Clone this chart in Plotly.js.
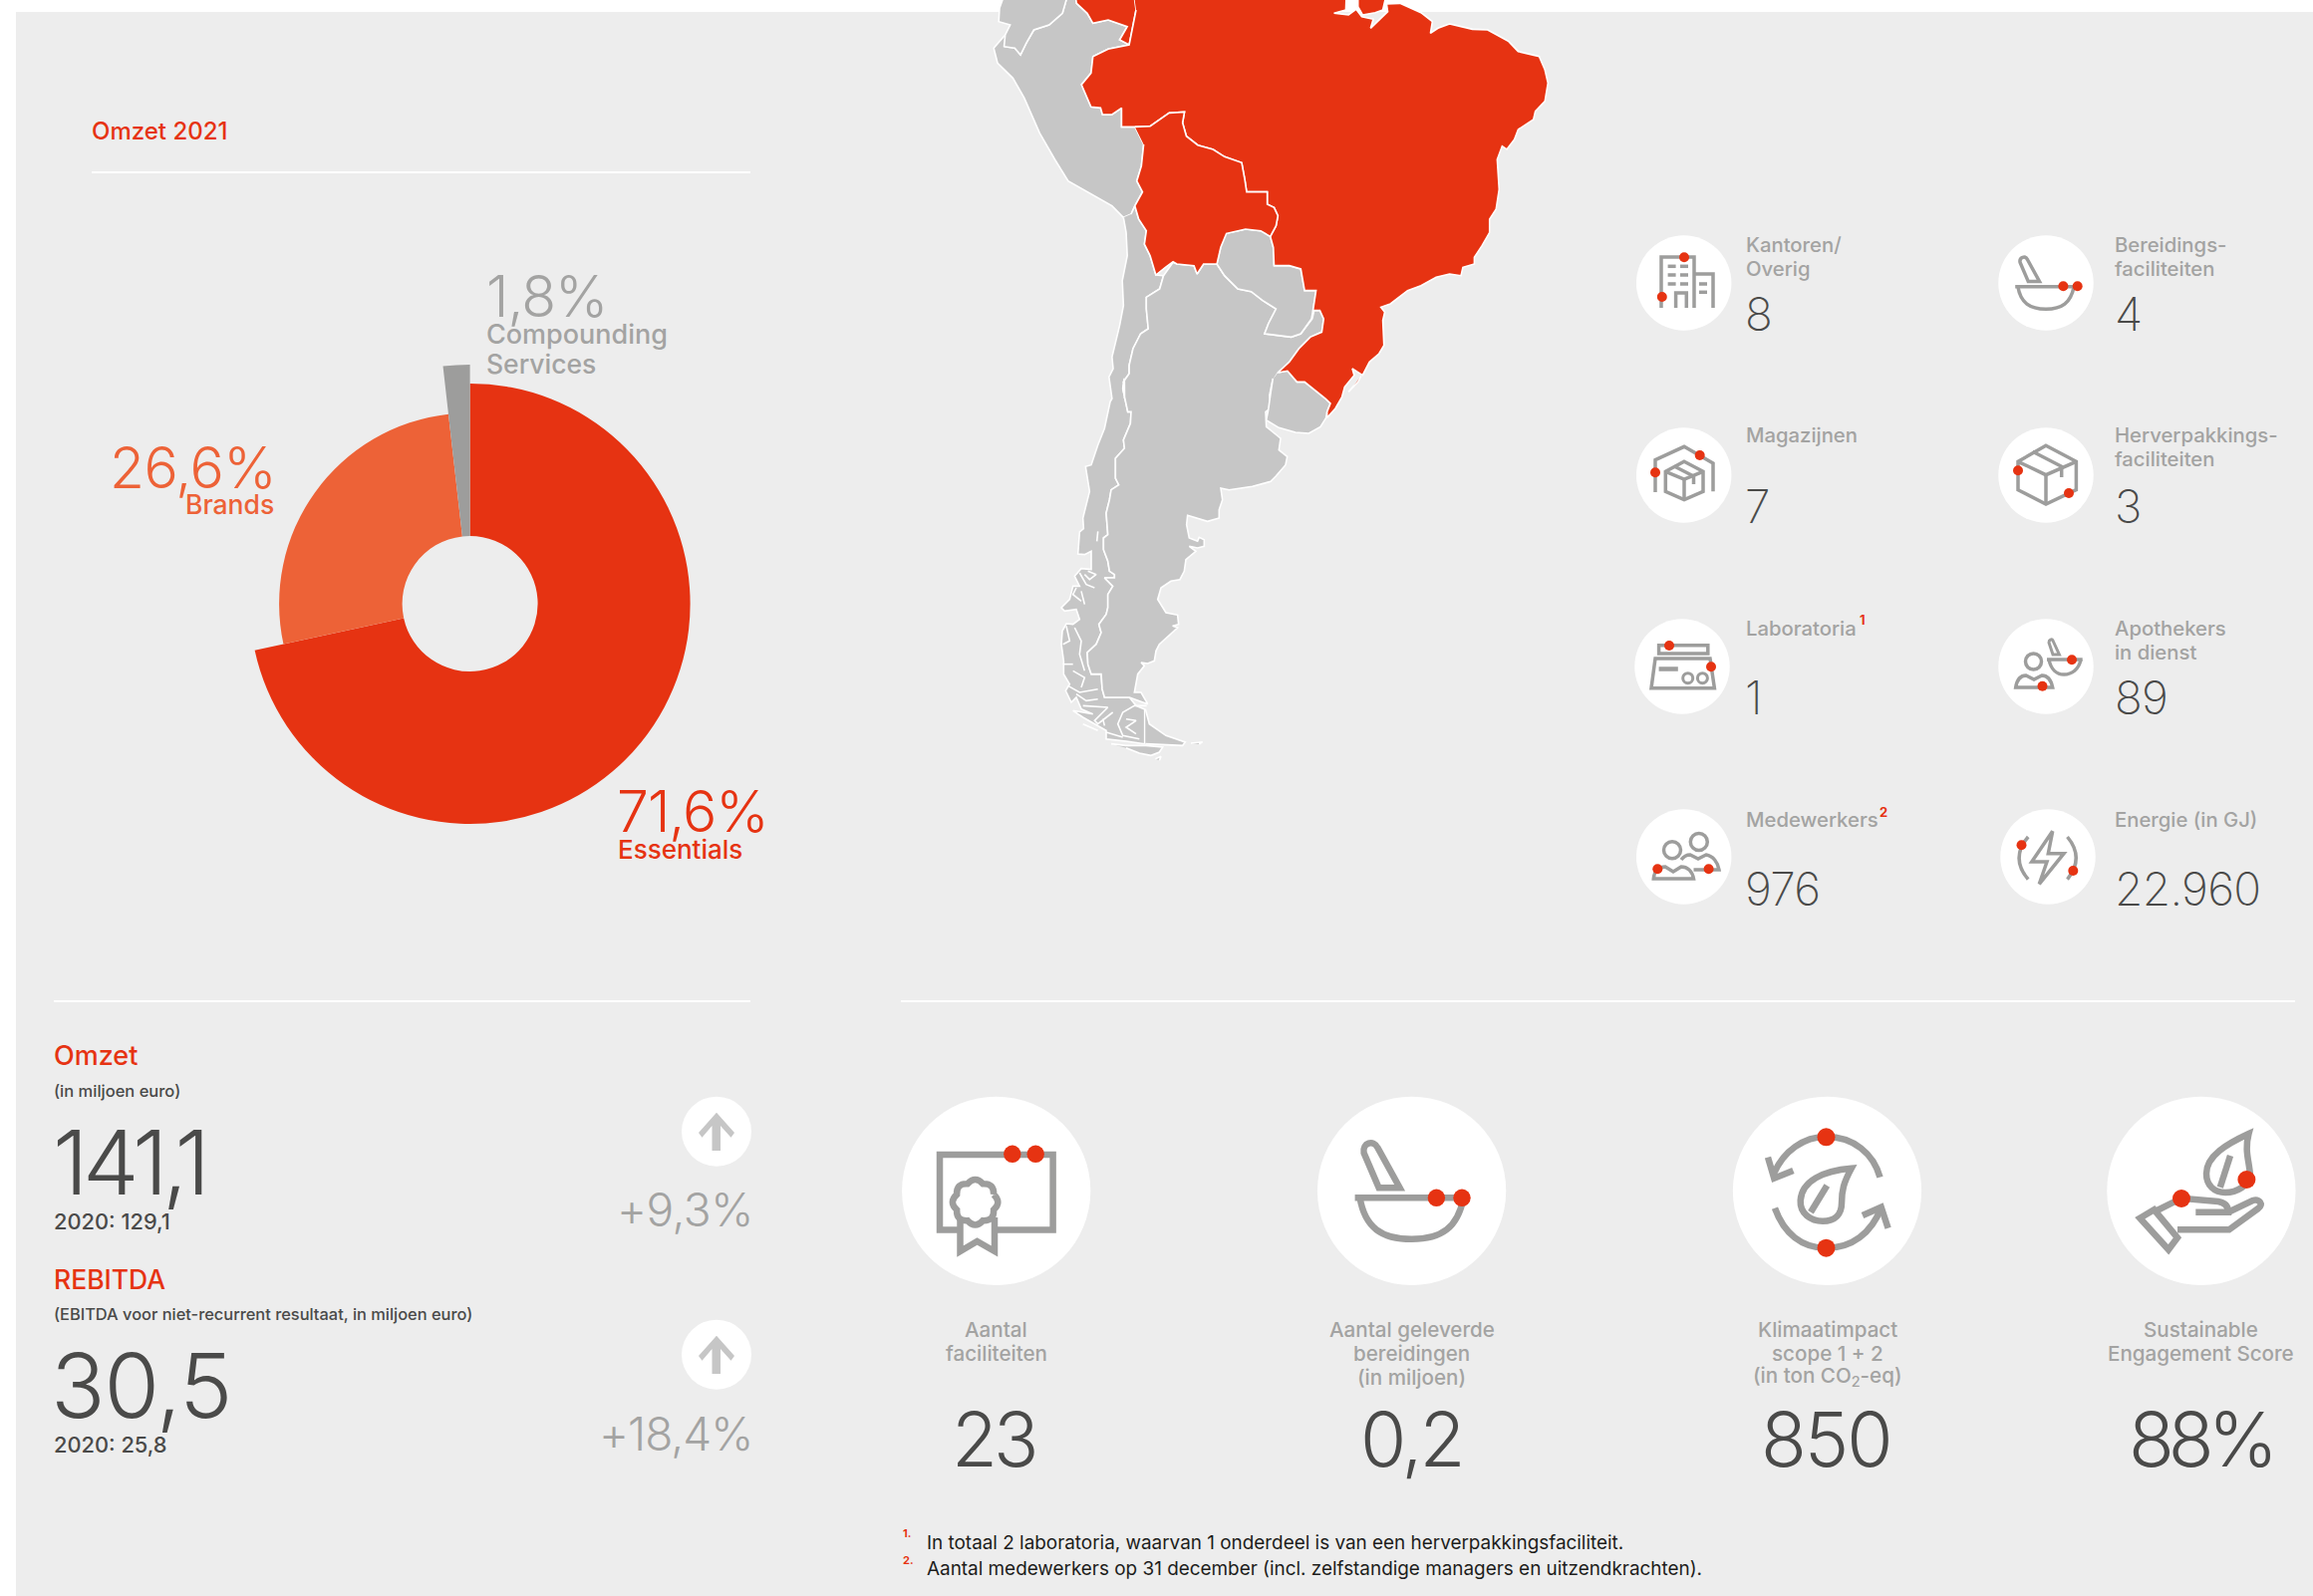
<!DOCTYPE html>
<html><head><meta charset="utf-8">
<script src="https://cdn.plot.ly/plotly-3.0.1.min.js"></script>
<style>html,body{margin:0;padding:0;background:#fff}#c{width:2321px;height:1602px}</style>
</head><body><div id="c"></div>
<script>
// ---------- DATA ----------
const shareLabels = ['Essentials','Brands','Compounding Services'];
const shareValues = [71.6,26.6,1.8];
const shareColors = ['#e63312','#ed6237','#9d9d9c'];
const shareRadii  = [221,191.5,240];

const smallLabels = [['Kantoren/','Overig'],['Bereidings-','faciliteiten'],['Magazijnen'],['Herverpakkings-','faciliteiten'],['Laboratoria'],['Apothekers','in dienst'],['Medewerkers'],['Energie (in GJ)']];
const smallValues = ['8','4','7','3','1','89','976','22.960'];
const bigLabels = [['Aantal','faciliteiten'],['Aantal geleverde','bereidingen','(in miljoen)'],['Klimaatimpact','scope 1 + 2','(in ton CO<sub>2</sub>-eq)'],['Sustainable','Engagement Score']];
const bigValues = ['23','0,2','850','88%'];
const bigTrack = [-4,-3,-2,-6];
const bigNudge = [-3,0,-1,-1];

const smallCx = [1689.7,2053,1689.7,2053,1688,2053,1689.7,2055];
const smallCy = [284,284,477,477,669,669,860,860];
const bigCx = [999.7,1416.6,1833.5,2208.9];
const bigCy = [1195.3,1195.3,1195.3,1195.3];
const arrowCx = [719,719];
const arrowCy = [1135.7,1359.7];

// map outlines (two reading frames)
const f1 = a => a.map(p=>[980+p[0]/2.613,p[1]/3]);
const f2 = a => a.map(p=>[1030+p[0]/3,380+p[1]/3]);
const brazil = [...f1([[410,-40],[970,-40],[968,30],[937,40],[975,45],[995,28],[1010,50],[1040,58],[1033,85],[1060,55],[1078,35],[1075,12],[1110,10],[1165,38],[1195,65],[1190,100],[1210,85],[1240,72],[1300,88],[1340,90],[1395,125],[1420,155],[1475,170],[1490,210],[1498,250],[1490,305],[1465,335],[1460,360],[1420,390],[1410,420],[1390,450],[1378,440],[1365,480],[1370,570],[1362,630],[1345,660],[1345,700],[1325,740],[1305,775],[1305,795],[1275,805],[1270,830],[1240,825],[1205,835],[1165,860],[1130,875],[1085,915],[1060,925],[1070,940],[1065,965],[1068,1040],[1055,1065],[1030,1090],[1012,1130],[985,1110],[990,1130],[965,1165],[958,1195]]),
 ...f2([[930,90],[905,118],[905,100],[915,75],[900,60]]),
 ...f1([[860,1150],[840,1150],[815,1117],[790,1122],[820,1090],[845,1050],[875,1015],[905,1000],[910,960],[900,935],[882,935],[890,875],[860,875],[850,810],[820,800],[780,800],[778,745],[770,712],[785,680],[790,650],[780,625],[762,615],[762,578],[708,578],[703,540],[695,490],[650,472],[620,450],[580,437],[550,410],[540,370],[545,337],[505,340],[455,380],[415,382],[380,382],[380,325],[355,345],[330,345],[325,325],[300,322],[275,255],[300,220],[305,170],[345,148],[400,135],[418,30]])];
const marajo = f1([[1000,-5],[1000,20],[1012,45],[1045,38],[1065,30],[1072,-5]]);
const lagoon = f1([[1008,1132],[1000,1150],[975,1180],[990,1160]]);
const colombia = f1([[255,-40],[262,10],[290,40],[305,70],[345,60],[395,80],[375,120],[400,135],[418,30],[410,-40]]);
const bolivia = f1([[415,382],[455,380],[505,340],[545,337],[540,370],[550,410],[580,437],[620,450],[650,472],[695,490],[703,540],[708,578],[762,578],[762,615],[780,625],[790,650],[785,680],[770,712],[745,695],[705,690],[655,703],[640,745],[630,795],[595,795],[578,825],[570,800],[525,795],[515,788],[495,805],[470,828],[455,770],[440,735],[445,695],[425,660],[415,620],[435,578],[420,545],[432,500],[438,435]]);
const ecuador = f1([[80,-40],[60,25],[58,65],[88,75],[75,105],[72,140],[100,145],[115,165],[130,130],[150,90],[190,75],[225,40],[235,0],[235,-40]]);
const peru = f1([[75,105],[45,145],[55,190],[95,235],[125,295],[165,400],[205,480],[240,545],[355,620],[385,655],[405,645],[415,620],[435,578],[420,545],[432,500],[438,435],[415,382],[380,382],[380,325],[355,345],[330,345],[325,325],[300,322],[275,255],[300,220],[305,170],[345,148],[400,135],[375,120],[395,80],[345,60],[305,70],[290,40],[262,10],[255,-40],[235,-40],[235,0],[225,40],[190,75],[150,90],[130,130],[115,165],[100,145],[72,140]]);
const paraguay = f1([[655,703],[705,690],[745,695],[770,712],[778,745],[780,800],[820,800],[850,810],[860,875],[890,875],[882,935],[878,960],[850,1005],[825,1015],[755,1005],[765,975],[785,930],[750,905],[720,878],[685,870],[650,830],[630,795],[640,745]]);
const uruguay = [...f1([[790,1122],[815,1117],[840,1150],[860,1150]]),...f2([[900,60],[915,75],[905,100],[902,118],[885,145],[850,165],[810,162],[760,148],[722,125],[728,95],[735,45],[742,0]]),...f1([[775,1145]])];
const argBorder = f2([[365,980],[310,960],[235,960],[228,935],[225,890],[195,890],[185,860],[183,825],[210,800],[225,765],[218,740],[240,710],[245,690],[245,650],[260,625],[235,600],[265,600],[265,590],[250,580],[245,550],[232,515],[232,480],[245,470],[240,405],[250,365],[255,335],[278,320],[268,300],[268,240],[295,210],[292,185],[313,135],[315,100],[305,100],[290,30],[295,0]]);
const chileBorderN = f1([[388,1200],[385,1150],[400,1125],[400,1100],[410,1050],[430,1005],[450,990],[445,930],[445,895],[480,870],[490,830]]);
const argentina = [...f1([[490,830],[515,790],[525,795],[570,800],[578,825],[595,795],[630,795],[650,830],[685,870],[720,878],[750,905],[785,930],[765,975],[755,1005],[825,1015],[850,1005],[880,960],[885,935],[900,935],[910,960],[905,1000],[875,1015],[845,1050],[820,1090],[790,1122],[775,1150],[768,1190]]),
 ...f2([[735,90],[720,100],[722,145],[765,180],[760,215],[785,235],[780,260],[750,295],[735,310],[680,325],[610,335],[585,330],[590,365],[580,395],[580,420],[545,430],[510,420],[485,412],[482,440],[490,480],[515,490],[520,478],[535,485],[535,505],[515,510],[490,505],[510,520],[480,545],[475,580],[462,605],[435,610],[405,630],[395,665],[420,705],[455,712],[458,740],[440,745],[455,750],[400,800],[390,820],[385,850],[365,858],[345,855],[355,865],[335,890],[328,930],[325,945],[345,945]]),
 ...argBorder, ...chileBorderN];
const chile = [...f1([[385,655],[392,700],[395,770],[382,845],[385,920],[375,980],[355,1075],[358,1110],[347,1135],[355,1200]]),
 ...f2([[252,70],[235,150],[215,200],[195,260],[178,265],[190,340],[170,420],[172,452],[160,462],[155,528],[175,530],[195,520],[195,575],[165,572],[145,595],[160,625],[140,625],[130,665],[105,690],[115,700],[150,695],[160,725],[140,740],[120,738],[108,760],[105,800],[112,850],[112,890],[130,920],[118,940],[135,975],[150,960],[165,995],[200,1010],[140,1000],[170,1020],[240,1060],[240,1085],[300,1092],[356,1100],[356,996],[330,985]]),
 ...argBorder.slice(1), ...chileBorderN, ...f1([[470,828],[455,770],[440,735],[445,695],[425,660],[415,620],[405,645]])];
const fireland = f2([[358,995],[370,1040],[420,1075],[478,1095],[470,1105],[358,1100]]);
const islandA = f2([[255,1100],[300,1105],[360,1105],[410,1110],[400,1125],[375,1135],[340,1128],[300,1112]]);
const islandB = f2([[495,1098],[530,1094],[520,1101]]);
const islandC = f2([[388,1145],[405,1138],[400,1150]]);
const fjords = [
 [[215,460],[212,490]],[[160,585],[180,620],[205,630]],[[185,580],[210,590],[190,605],[175,590]],[[150,630],[140,650],[165,670]],[[165,640],[175,680]],
 [[120,745],[130,790],[110,800]],[[145,750],[165,790],[160,830],[175,880]],[[110,860],[140,860]],[[140,880],[175,900],[165,930]],
 [[125,925],[160,945],[215,935]],[[150,950],[180,970],[215,965]],[[170,985],[245,990],[205,1030],[215,1040],[260,1005]],[[230,1025],[235,1045]],
 [[170,1040],[215,1060]],[[240,1065],[290,1080]],[[362,985],[325,985],[290,1005],[275,1040],[290,1075],[340,1085]],[[300,1025],[330,1030],[300,1050],[330,1070]]
].map(f2);

// ---------- HELPERS ----------
const RED='#e63312', ORANGE='#ed6237', GREY='#9d9d9c', LBL='#a3a3a2', DARK='#4a4a49';
const anns=[], shapes=[];
const DESC=0.242;
function T(text,x,base,size,color,weight,anchor,track){
  const t=track?`<span style="letter-spacing:${track}px">${text}</span>`:text;
  anns.push({text:t,x,y:base+DESC*size+0.5,xref:'x',yref:'y',xanchor:anchor||'left',yanchor:'bottom',showarrow:false,borderpad:0,borderwidth:0,
    align:anchor==='right'?'right':(anchor==='center'?'center':'left'),
    font:{family:'Inter, "Open Sans", sans-serif',size,color,weight:weight||400}});
}
function S(d,w,fill){shapes.push({type:'path',path:d,xref:'x',yref:'y',layer:'above',line:{color:fill&&!w?fill:GREY,width:w===undefined?3.5:w},fillcolor:fill||'rgba(0,0,0,0)'});}
function C(cx,cy,r,w){shapes.push({type:'circle',xref:'x',yref:'y',layer:'above',x0:cx-r,x1:cx+r,y0:cy-r,y1:cy+r,line:{color:GREY,width:w||3.5},fillcolor:'rgba(0,0,0,0)'});}
function D(cx,cy,r){shapes.push({type:'circle',xref:'x',yref:'y',layer:'above',x0:cx-r,x1:cx+r,y0:cy-r,y1:cy+r,line:{width:0},fillcolor:RED});}
function xf(d,cx,cy,s){let i=0;return d.replace(/-?\d+(\.\d+)?/g,n=>{const v=+n*s+(i++%2?cy:cx);return v.toFixed(1);});}
const MORTAR=['M-57,7 L58,7','M-52,7 C-47,37 -30,48.5 0,48.5 C30,48.5 46,37 52,7','M-33,-3 L-48,-38 C-50,-48 -38,-52 -34,-43 L-12,-3 Z'];

// ---------- PANEL & RULES ----------
shapes.push({type:'rect',xref:'x',yref:'y',layer:'below',x0:16,x1:2321,y0:12,y1:1602,line:{width:0},fillcolor:'#ededed'});
[[92,753,173],[54,753,1005],[904,2303,1005]].forEach(l=>shapes.push({type:'line',xref:'x',yref:'y',layer:'below',x0:l[0],x1:l[1],y0:l[2],y1:l[2],line:{color:'#ffffff',width:2}}));

// ---------- ICONS ----------
// kantoren
S('M1667,309 L1667,258 L1700,258 L1700,309');S('M1700,275 L1719,275 L1719,309');S('M1681.6,309 L1681.6,294 L1692.3,294 L1692.3,309');
[[1673.6,267.3],[1686,267.3],[1673.6,276],[1686,276],[1673.6,285],[1686,285],[1705,285],[1705,293.3]].forEach(p=>S(`M${p[0]},${p[1]} L${p[0]+8},${p[1]}`));
D(1690,258.3,5);D(1667.8,298,5);
// bereidings
MORTAR.forEach(d=>S(xf(d,2053,284,0.54)));D(2070.4,287.3,5);D(2084.7,287.3,5);
// magazijn
S('M1661,494 L1661,461.7 L1690,448.3 L1719,465 L1719,493.3');
S('M1690,463.3 L1709,473.3 L1709,493.3 L1690,501.7 L1671.3,493.3 L1671.3,473.3 Z');S('M1671.3,473.3 L1690,481 L1709,473.3');S('M1690,481 L1690,501.7');S('M1680,468 L1699.5,478 L1699.5,486');
D(1705.7,457,5);D(1661,474.3,5);
// herverpakking
S('M2053,447.3 L2083.4,463.3 L2083.4,491.7 L2053,506 L2025,491.7 L2025,463.3 Z');S('M2025,463.3 L2053,476.7 L2083.4,463.3');S('M2053,476.7 L2053,506');S('M2039.6,453.3 L2068.7,468.3 L2068.7,479');
D(2025,472.3,5);D(2076,495,5);
// laboratoria
S('M1664.6,647.7 L1713.8,647.7 L1713.8,656 L1664.6,656 Z');S('M1661,661 L1716,661 L1720.4,690.7 L1657,690.7 Z');S('M1664.6,671.5 L1683.8,671.5',4.5);C(1693.7,680.7,5,3);C(1708.4,680.7,5,3);
D(1675,648,5);D(1717,669.3,5);
// apothekers
C(2040.5,664,8);S('M2022.7,690 L2059.7,690 C2058,682 2054,678 2049,678 L2041,682 L2033,678 C2028,678 2024,682 2022.7,690 Z');
S('M2054,662 L2089.7,662');S('M2056,662 C2058,672 2064,677 2071,677 C2079,677 2086,672 2088,662');S('M2060,643 L2066.4,657 L2060,657 L2056,645 C2056,642 2059,641 2060,643 Z',3);
D(2079,662.3,5);D(2049.5,688.7,5);
// medewerkers
C(1678,853.3,8.5);C(1704.8,845,8.5);
S('M1659.3,882 L1699.5,882 C1698,874 1693,870 1687,870 L1679,875 L1671,870 C1665,870 1660,874 1659.3,882 Z');
S('M1687,863 C1690,859 1694,858 1696,858 L1704,862 L1712,858 C1719,859 1724,866 1725,873 L1699.5,873');
D(1663.3,872.3,5);D(1714.6,872.3,5);
// energie
S('M2059.7,834.3 L2038.8,865 L2054,865 L2046.3,887.3 L2071,856.7 L2055.3,856.7 Z');S('M2035.2,840 Q2017,861 2035.2,882.7');S('M2074.5,840 Q2092,861 2074.5,882.7');
D(2028.5,848.3,5);D(2080.3,874,5);
// certificaat
S('M963.5,1234.5 L943,1234.5 L943,1159 L1056.6,1159 L1056.6,1234.5 L998,1234.5',6.5);
S('M963.5,1222 L963.5,1256 L980.5,1246 L998,1256 L998,1222',6.5);
(function(){const cx=978.6,cy=1206.7;let d='';for(let i=0;i<=8;i++){const a=i*Math.PI/4-Math.PI/8,b=a-Math.PI/8;const px=cx+20*Math.cos(a),py=cy+20*Math.sin(a);
 if(i===0)d='M'+px.toFixed(1)+','+py.toFixed(1);else d+=` Q${(cx+27*Math.cos(b)).toFixed(1)},${(cy+27*Math.sin(b)).toFixed(1)} ${px.toFixed(1)},${py.toFixed(1)}`;}S(d,6.5);})();
D(1015.8,1158.3,8.7);D(1039.2,1158.3,8.7);
// vijzel groot
MORTAR.forEach(d=>S(xf(d,1416.6,1195.3,1),6.5));D(1441.4,1202.3,8.7);D(1467,1202.3,8.7);
// klimaat
S('M1780,1178 C1790,1155 1810,1141 1832.5,1141 C1860,1141 1880,1158 1886.5,1181.7',6.5);S('M1774,1161.7 L1780.2,1182.7 L1799.4,1175',6.5);
S('M1781,1212.7 C1790,1238 1808,1252.7 1832.5,1252.7 C1858,1252.7 1878,1238 1887.7,1212',6.5);S('M1869,1220 L1887.7,1211.7 L1894.6,1232.7',6.5);
S('M1857.8,1172.7 C1830,1175 1808,1185 1806.7,1205 C1806,1218 1817,1225.7 1829,1225.7 C1842,1225.7 1848,1218 1848,1208 C1848,1195 1850,1187 1857.8,1172.7 Z',6.5);S('M1817,1216.7 L1833.3,1190',6.5);
D(1832.5,1141.3,9);D(1832.5,1252.7,9);
// sustainable
S('M2256.5,1138 C2235,1148 2214,1160 2214,1178 C2214,1190 2222,1197 2233,1197 C2245,1197 2256,1190 2258,1180 C2257,1165 2252,1155 2256.5,1138 Z',6.5);S('M2227.8,1191.7 L2238,1160',6.5);
S('M2147.3,1222.7 L2161.6,1214.3 L2185,1242.3 L2176,1254.3 Z',6.5);
S('M2164.5,1215 L2189,1202.7 L2225.8,1206 C2232,1207 2236,1210 2236,1216.7 L2203.3,1216.7',6.5);
S('M2236,1216.7 L2260.5,1205 C2267,1203 2272,1209 2266,1213 L2236.8,1234.3 L2185,1234.3',6.5);
D(2189,1203,9);D(2254.4,1184,9);
// pijlen
arrowCy.forEach(y=>S(`M719,${y-19} L737,${y+1.3} L733.5,${y+6} L723,${y-5.7} L723,${y+19.3} L714.5,${y+19.3} L714.5,${y-5.7} L704.5,${y+6} L701,${y+1.3} Z`,0,'#c6c6c6'));

// ---------- TEXT ----------
T('Omzet 2021',92,140,24,RED,500);
T('1,8%',487.5,318,57,LBL,300,'left',-1);T('Compounding',488,344.5,27,LBL,500);T('Services',488,374.5,26.5,LBL,500);
T('26,6%',277,489.5,57,ORANGE,300,'right',-0.5);T('Brands',274.5,515.5,26.5,ORANGE,500,'right');
T('71,6%',619,835,57,RED,300,'left',-1);T('Essentials',620,861,26,RED,500);

const col=[1751.5,2122.2,1751.5,2122.2,1751.5,2122.2,1751.5,2122.2];
const lblBase=[253,253,444,444,637.7,637.7,830,830];
const valBase=[331.7,331.7,524.5,524.5,716.7,716.7,908,908];
smallLabels.forEach((l,i)=>{l.forEach((s,j)=>T(s,col[i],lblBase[i]+24*j,20.3,LBL,500));T(smallValues[i],col[i]-0.5,valBase[i],46,DARK,250,'left',-0.7);});
T('1',1866,626.7,13,RED,700);T('2',1886,819,13,RED,700);

T('Omzet',54,1068.7,27,RED,500);T('(in miljoen euro)',53.5,1101,16.5,DARK,500);T('141,1',53,1199,90,DARK,300,'left',-5.3);T('2020: 129,1',54,1233.7,21.8,DARK,500);
T('+9,3%',756,1230.7,46,LBL,300,'right',-0.5);
T('REBITDA',54,1292.7,26.5,RED,500);T('(EBITDA voor niet-recurrent resultaat, in miljoen euro)',53.5,1325,16.4,DARK,500);T('30,5',51,1423,90,DARK,300,'left',-1);T('2020: 25,8',54,1457,21.8,DARK,500);
T('+18,4%',755,1455,46,LBL,300,'right',-1);

bigLabels.forEach((l,i)=>{l.forEach((s,j)=>T(s,bigCx[i],1341.7+24*j,20.6,LBL,500,'center'));T(bigValues[i],bigCx[i]+bigNudge[i],1471.7,75,DARK,300,'center',bigTrack[i]);});

T('1.',905.5,1543.3,11,RED,700);T('In totaal 2 laboratoria, waarvan 1 onderdeel is van een herverpakkingsfaciliteit.',930,1554.5,18.9,'#1d1d1b',400);
T('2.',905.5,1570,11,RED,700);T('Aantal medewerkers op 31 december (incl. zelfstandige managers en uitzendkrachten).',930,1580.5,18.9,'#1d1d1b',400);

// ---------- TRACES ----------
function poly(name,pts,color){return {type:'scatter',mode:'lines',name,x:pts.map(p=>p[0]),y:pts.map(p=>p[1]),fill:'toself',fillcolor:color,line:{color:'#ffffff',width:1.6},hoverinfo:'skip',showlegend:false};}
const traces=[
 poly('Peru',peru,'#c6c6c6'),poly('Ecuador',ecuador,'#c6c6c6'),poly('Chile',chile,'#c6c6c6'),poly('Argentinië',argentina,'#c6c6c6'),poly('Paraguay',paraguay,'#c6c6c6'),poly('Uruguay',uruguay,'#c6c6c6'),
 poly('Vuurland',fireland,'#c6c6c6'),poly('Eiland',islandA,'#c6c6c6'),poly('Eiland',islandB,'#c6c6c6'),poly('Eiland',islandC,'#c6c6c6'),
 poly('Colombia',colombia,RED),poly('Brazilië',brazil,RED),poly('Marajó',marajo,RED),poly('Lagoa',lagoon,RED),poly('Bolivia',bolivia,RED)];
fjords.forEach(f=>traces.push({type:'scatter',mode:'lines',x:f.map(p=>p[0]),y:f.map(p=>p[1]),line:{color:'#ffffff',width:1.6},hoverinfo:'skip',showlegend:false}));
traces.push({type:'scatter',mode:'markers',name:'cirkels',x:[...smallCx,...bigCx,...arrowCx],y:[...smallCy,...bigCy,...arrowCy],
  marker:{color:'#ffffff',opacity:1,line:{width:0},size:[...smallCx.map(()=>95.5),...bigCx.map(()=>189.3),...arrowCx.map(()=>70)]},hoverinfo:'skip',showlegend:false});

const PW=2321,PH=1602,PCX=471.6,PCY=606,HOLE=68;
shareLabels.forEach((lab,i)=>{const r=shareRadii[i];
  traces.push({type:'pie',name:lab,labels:shareLabels,values:shareValues,sort:false,direction:'clockwise',rotation:0,hole:HOLE/r,
    domain:{x:[(PCX-r)/PW,(PCX+r)/PW],y:[1-(PCY+r)/PH,1-(PCY-r)/PH]},
    marker:{colors:shareColors.map((c,k)=>k===i?c:'rgba(0,0,0,0)'),line:{width:0}},textinfo:'none',hoverinfo:'skip',showlegend:false});
});

Plotly.newPlot('c',traces,{
  width:PW,height:PH,margin:{l:0,r:0,t:0,b:0},paper_bgcolor:'#ffffff',plot_bgcolor:'rgba(0,0,0,0)',showlegend:false,
  xaxis:{range:[0,PW],visible:false,fixedrange:true},yaxis:{range:[PH,0],visible:false,fixedrange:true},
  shapes,annotations:anns
},{staticPlot:true,displayModeBar:false});
</script></body></html>
